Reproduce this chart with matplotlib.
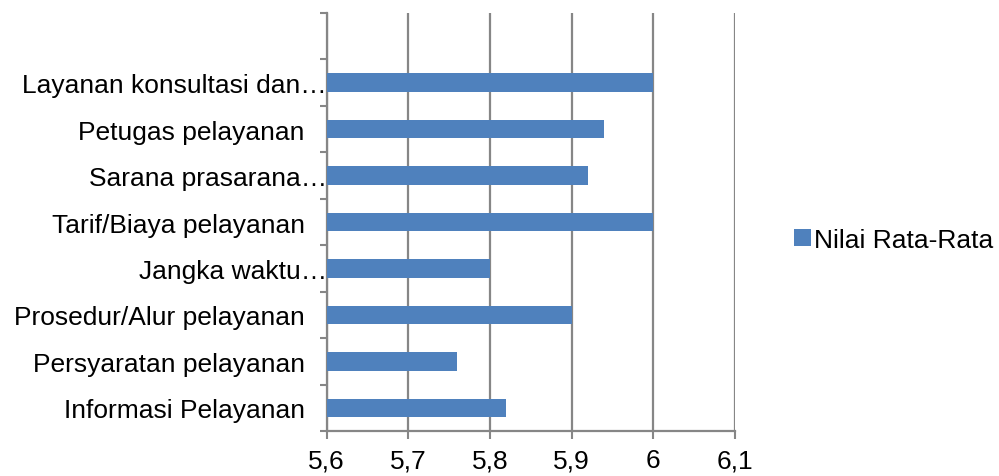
import numpy as np
import matplotlib
matplotlib.use("Agg")
import matplotlib.pyplot as plt

plt.rcParams['font.family'] = ['Liberation Sans', 'DejaVu Sans']

# categories bottom -> top (top slot is empty in the original)
labels = ['Informasi Pelayanan', 'Persyaratan pelayanan', 'Prosedur/Alur pelayanan',
          'Jangka waktu\u2026', 'Tarif/Biaya pelayanan', 'Sarana prasarana\u2026',
          'Petugas pelayanan', 'Layanan konsultasi dan\u2026', '']
values = [5.82, 5.76, 5.90, 5.80, 6.00, 5.92, 5.94, 6.00, np.nan]
xticks = [5.6, 5.7, 5.8, 5.9, 6.0, 6.1]
xtick_labels = ['5,6', '5,7', '5,8', '5,9', '6', '6,1']
series_name = 'Nilai Rata-Rata'

bar_color = '#4F81BD'
grid_color = '#868686'
fs = 19

fig = plt.figure(figsize=(9.99, 4.77), dpi=100)
ax = fig.add_axes([0.327, 0.0943, 0.4087, 0.8763])

y = np.arange(len(labels))
x0 = 5.6
vals = np.array(values)
ax.barh(y, vals - x0, left=x0, height=0.4, color=bar_color, label=series_name, zorder=3)

ax.set_xlim(5.6, 6.1)
ax.set_ylim(-0.5, len(labels) - 0.5)
ax.set_xticks(xticks)
ax.set_xticklabels(xtick_labels, fontsize=fs)

# category ticks sit between the slots
ax.set_yticks(np.arange(-0.5, len(labels), 1.0))
ax.set_yticklabels([])
ax.set_yticks(y, minor=True)
disp = [l if l.endswith('\u2026') else l + '   ' for l in labels]
ax.set_yticklabels(disp, minor=True, fontsize=fs)
ax.tick_params(axis='y', which='minor', length=0, pad=0)
ax.tick_params(axis='y', which='major', length=5, width=1.5, color=grid_color)
ax.tick_params(axis='x', length=6, width=1.5, color=grid_color, pad=6.5)

ax.grid(axis='x', color=grid_color, linewidth=1.6, zorder=0)
for s in ['top', 'right']:
    ax.spines[s].set_visible(False)
ax.spines['left'].set_color(grid_color)
ax.spines['left'].set_linewidth(1.6)
ax.spines['bottom'].set_color(grid_color)
ax.spines['bottom'].set_linewidth(1.6)

leg = fig.legend(loc='center left', bbox_to_anchor=(0.771, 0.495), frameon=False,
                 fontsize=fs, handlelength=0.65, handleheight=0.65, handletextpad=0.1)

fig.savefig('out.png', dpi=100)
